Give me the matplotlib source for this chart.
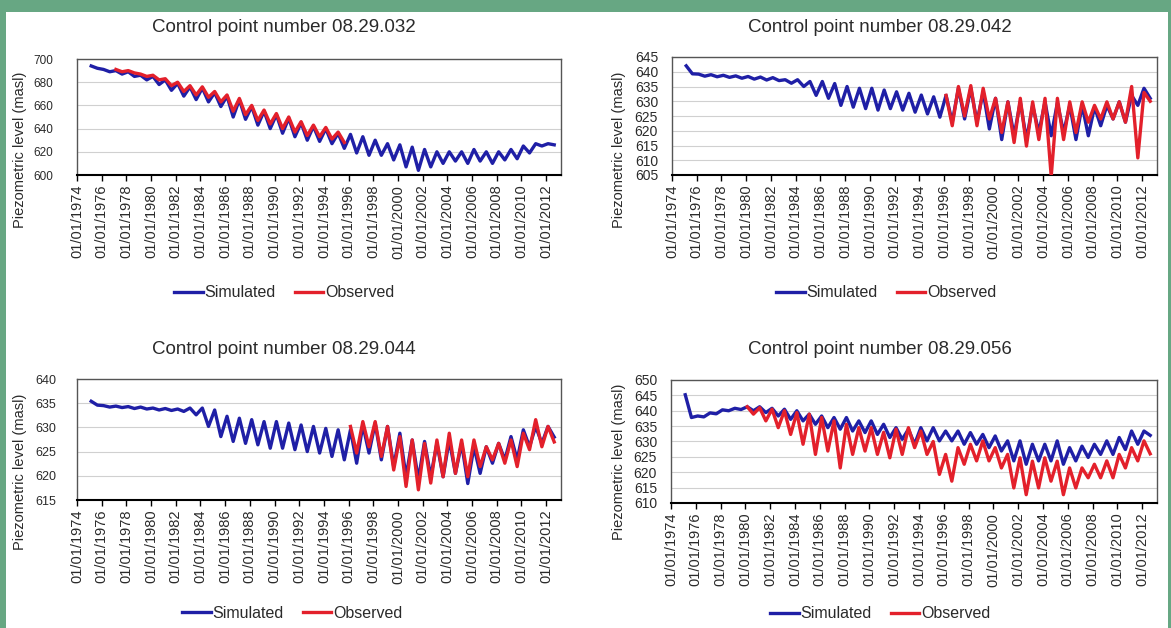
import numpy as np
import matplotlib
matplotlib.use("Agg")
import matplotlib.pyplot as plt
from matplotlib.patches import Rectangle

# ---------------------------------------------------------------------------
# Annual high / low piezometric levels (m a.s.l.) for each control point
# ---------------------------------------------------------------------------
tick_years = list(range(1974, 2013, 2))
tick_labels = ["01/01/%d" % y for y in tick_years]

# 08.29.032
p032_sim_years = list(range(1975, 2013))
p032_sim_high = [694, 691, 690, 689, 686, 685, 682, 679, 676, 675, 671, 668, 665,
                 659, 655, 652, 649, 645, 642, 640, 636, 635, 633, 630, 627, 626,
                 624, 622, 620, 620, 620, 622, 620, 620, 622, 625, 627, 627]
p032_sim_low = [692, 689, 687, 685, 682, 678, 673, 668, 665, 663, 659, 650, 648,
                643, 640, 636, 633, 630, 629, 627, 623, 619, 617, 617, 613, 607,
                604, 607, 610, 612, 610, 612, 610, 613, 614, 619, 625, 626]
p032_obs_years = list(range(1977, 1996))
p032_obs_high = [691, 690, 687, 686, 683, 680, 677, 676, 672, 669, 666, 660, 656,
                 653, 650, 646, 643, 641, 637]
p032_obs_low = [689, 688, 685, 682, 677, 672, 669, 667, 663, 655, 652, 647, 644,
                640, 637, 634, 633, 631, 628]

# 08.29.042
p042_sim_years = list(range(1975, 2013))
p042_sim_high = [642, 639.2, 639, 638.8, 638.6, 638.4, 638.2, 638, 637.3, 637.3,
                 636.7, 636.7, 636, 635, 634.4, 634.4, 633.8, 633.2, 632.7, 632.1,
                 631.5, 632, 634.4, 634.4, 633.2, 631, 629.8, 629.8, 628.6, 629.8,
                 629.5, 628.6, 628.6, 628, 628.6, 629.8, 632, 634.4]
p042_sim_low = [639.3, 638.5, 638.3, 638.1, 637.8, 637.5, 637.2, 637, 636.1, 635,
                632, 631, 628.6, 628, 627.5, 627, 627.5, 627, 626.3, 625.7, 624.6,
                622.9, 624, 623, 620.6, 617, 618.3, 617, 619.4, 618.3, 619.4, 617,
                618.3, 621.7, 624, 622.9, 628.6, 631]
p042_obs_years = list(range(1996, 2013))
p042_obs_high = [632, 635, 635.3, 634.4, 631, 629.8, 631, 629.8, 631, 631, 629.8,
                 629.8, 628.6, 629.8, 629.8, 635, 633]
p042_obs_low = [621.7, 625, 621.7, 624, 619.4, 616, 614.8, 617, 604.5, 617, 619.4,
                622.9, 624, 624, 622.9, 610.8, 630]

# 08.29.044
p044_sim_years = list(range(1975, 2013))
p044_sim_high = [635.4, 634.5, 634.4, 634.3, 634.2, 634, 633.9, 633.8, 634, 634,
                 633.6, 632.3, 631.9, 631.6, 631.2, 631.2, 630.9, 630.5, 630.2,
                 629.8, 629.5, 629.5, 630.5, 630.9, 630.2, 628.8, 627.4, 627.1,
                 626.7, 627.4, 626.7, 626, 626, 626.7, 628.1, 629.5, 630.2, 630.2]
p044_sim_low = [634.6, 634.2, 634.1, 633.9, 633.8, 633.6, 633.5, 633.3, 632.6,
                630.2, 628.1, 627.1, 626.7, 626.4, 625.7, 625.7, 625.4, 625, 624.7,
                624, 623.3, 622.6, 624.7, 623.3, 621.9, 619.8, 619.2, 619.8, 619.8,
                620.5, 618.4, 620.5, 622.6, 623.3, 623.3, 626, 626.7, 628]
p044_obs_years = list(range(1996, 2013))
p044_obs_high = [630.2, 631.2, 631.2, 630.2, 628.1, 627.4, 626.7, 627.4, 628.8,
                 627.4, 627.4, 626, 626.7, 627.4, 628.8, 631.6, 630.2]
p044_obs_low = [624.7, 626, 624, 621.2, 617.8, 617.1, 618.5, 619.8, 620.5, 619.8,
                621.9, 623.3, 622.6, 621.9, 625.4, 626, 627]

# 08.29.056
p056_sim_years = list(range(1975, 2013))
p056_sim_high = [645.2, 638.3, 639.3, 640.3, 640.8, 641.3, 641.3, 640.8, 640.5, 640,
                 638.9, 638.3, 637.8, 637.8, 636.7, 636.7, 635.6, 634.5, 634, 634.5,
                 634.5, 633.4, 633.4, 632.9, 632.3, 631.8, 630.2, 630.2, 629.1,
                 629.1, 630.2, 628, 628.5, 629.1, 630.2, 631.3, 633.4, 633.4]
p056_sim_low = [637.8, 638, 639, 640, 640.4, 640, 639.4, 638.3, 637.2, 636.7, 635.6,
                634.5, 634, 633.4, 632.9, 632.3, 631.3, 630.7, 629.1, 630.2, 630.2,
                630.2, 629.1, 629.1, 628, 626.9, 623.7, 622.6, 623.7, 623.7, 622.6,
                623.7, 624.8, 625.8, 625.8, 627.4, 629.1, 632]
p056_obs_years = list(range(1980, 2013))
p056_obs_high = [641.3, 641, 640.5, 640, 639.4, 638.9, 637.8, 636.7, 635.6, 634.5,
                 634.5, 633, 634, 634.5, 633.4, 630, 625.8, 628, 629.1, 630.2, 628,
                 625.8, 624.7, 623.6, 624.7, 623.6, 621.4, 621.4, 622.6, 623.7,
                 625.8, 628, 630.2]
p056_obs_low = [638.9, 636.7, 634.5, 632.3, 629.1, 625.8, 626.9, 621.4, 625.8, 626.9,
                625.8, 624.7, 625.8, 628, 625.8, 619.3, 617.1, 622.6, 623.7, 623.7,
                621.4, 614.9, 612.7, 614.9, 617.1, 612.7, 614.9, 618.2, 618.2, 618.2,
                621.4, 623.7, 626]


def seasonal_series(years, high, low):
    """Winter high early in the year, summer low mid-year."""
    t, v = [], []
    for y, h, l in zip(years, high, low):
        t += [y + 0.15, y + 0.65]
        v += [h, l]
    return np.array(t), np.array(v)


W, H = 1171, 628
GREEN = "#67a783"
BLUE = "#1f1fa6"
RED = "#e3202b"
TEXT = "#2a2a2a"
plt.rcParams["font.family"] = ["Liberation Sans", "DejaVu Sans"]

fig = plt.figure(figsize=(W / 100, H / 100), dpi=100, facecolor=GREEN)
fig.add_artist(Rectangle((6 / W, 0), (1168 - 6) / W, (628 - 12) / H,
                         transform=fig.transFigure, facecolor="white",
                         edgecolor="none", zorder=0))


def px_box(l, t, r, b):
    return [l / W, 1 - b / H, (r - l) / W, (b - t) / H]


panels = [
    dict(name="Control point number 08.29.032", box=(77, 59, 561, 175),
         ylim=(600, 700), ystep=20, ysize=8.5, ypad=17,
         title_xy=(284, 28), ylab_xy=(20, 150), leg_xy=(284, 293),
         sim=(p032_sim_years, p032_sim_high, p032_sim_low),
         obs=(p032_obs_years, p032_obs_high, p032_obs_low)),
    dict(name="Control point number 08.29.042", box=(672, 57, 1157, 175),
         ylim=(605, 645), ystep=5, ysize=10, ypad=10,
         title_xy=(880, 28), ylab_xy=(619, 150), leg_xy=(886, 293),
         sim=(p042_sim_years, p042_sim_high, p042_sim_low),
         obs=(p042_obs_years, p042_obs_high, p042_obs_low)),
    dict(name="Control point number 08.29.044", box=(77, 379, 561, 500),
         ylim=(615, 640), ystep=5, ysize=9, ypad=15,
         title_xy=(284, 349), ylab_xy=(20, 472), leg_xy=(292, 613),
         sim=(p044_sim_years, p044_sim_high, p044_sim_low),
         obs=(p044_obs_years, p044_obs_high, p044_obs_low)),
    dict(name="Control point number 08.29.056", box=(671, 380, 1157, 503),
         ylim=(610, 650), ystep=5, ysize=10, ypad=10,
         title_xy=(880, 349), ylab_xy=(619, 462), leg_xy=(880, 614),
         sim=(p056_sim_years, p056_sim_high, p056_sim_low),
         obs=(p056_obs_years, p056_obs_high, p056_obs_low)),
]

for p in panels:
    ax = fig.add_axes(px_box(*p["box"]))
    ts, vs = seasonal_series(*p["sim"])
    to, vo = seasonal_series(*p["obs"])
    ax.plot(ts, vs, color=BLUE, lw=2.4, label="Simulated", zorder=3)
    ax.plot(to, vo, color=RED, lw=2.4, label="Observed", zorder=4)

    ax.set_xlim(1974, 2013.2)
    ax.set_ylim(*p["ylim"])
    ax.set_yticks(np.arange(p["ylim"][0], p["ylim"][1] + 0.1, p["ystep"]))
    ax.set_xticks(tick_years)
    ax.set_xticklabels(tick_labels, rotation=90)
    ax.tick_params(axis="x", labelsize=10.5, length=4, width=1, direction="out",
                   pad=3, colors="black", labelcolor=TEXT)
    ax.tick_params(axis="y", labelsize=p["ysize"], length=0, pad=p["ypad"],
                   labelcolor=TEXT)
    ax.grid(axis="y", color="#d0d0d0", lw=0.8)
    ax.set_axisbelow(True)
    for s in ("top", "right", "left"):
        ax.spines[s].set_color("#555555")
        ax.spines[s].set_linewidth(1.0)
    ax.spines["bottom"].set_color("black")
    ax.spines["bottom"].set_linewidth(1.5)

    fig.text(p["title_xy"][0] / W, 1 - p["title_xy"][1] / H, p["name"],
             ha="center", va="center", fontsize=13.5, color=TEXT)
    fig.text(p["ylab_xy"][0] / W, 1 - p["ylab_xy"][1] / H,
             "Piezometric level (masl)", rotation=90, ha="center", va="center",
             fontsize=10.5, color=TEXT)
    ax.legend(loc="center", bbox_to_anchor=(p["leg_xy"][0] / W, 1 - p["leg_xy"][1] / H),
              bbox_transform=fig.transFigure, ncol=2, frameon=False,
              fontsize=11.5, handlelength=1.8, columnspacing=1.2,
              handletextpad=0.1, labelcolor=TEXT)

fig.savefig("out.png", dpi=100, facecolor=GREEN)
